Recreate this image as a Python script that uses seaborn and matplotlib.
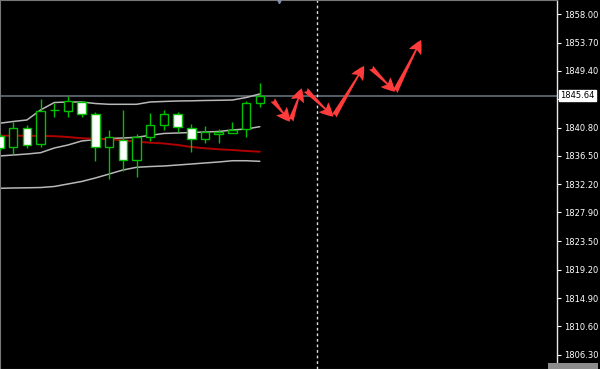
import numpy as np
import pandas as pd
import matplotlib
matplotlib.use("Agg")
import matplotlib.pyplot as plt
import matplotlib.transforms as mtransforms
from matplotlib.patches import Rectangle
import seaborn as sns

# ---- data ----
opens = [1839.52, 1837.89, 1840.69, 1838.26, 1843.39, 1843.31, 1844.68, 1842.81, 1837.80, 1838.91,
         1835.87, 1839.41, 1841.19, 1842.81, 1840.78, 1839.06, 1839.82, 1840.02, 1840.53, 1844.48]
highs = [1839.82, 1841.60, 1841.19, 1845.14, 1844.57, 1845.64, 1844.83, 1843.12, 1840.43, 1843.47,
         1839.82, 1842.96, 1843.47, 1843.16, 1841.34, 1841.08, 1840.58, 1841.69, 1844.88, 1847.52]
lows = [1837.39, 1836.78, 1837.65, 1837.89, 1842.45, 1842.36, 1842.36, 1835.76, 1832.94, 1834.25,
        1833.33, 1838.76, 1840.43, 1840.17, 1837.13, 1838.50, 1838.50, 1839.93, 1839.32, 1843.88]
closes = [1837.69, 1840.69, 1838.15, 1843.36, 1843.51, 1844.83, 1842.81, 1837.80, 1839.32, 1835.87,
          1839.36, 1841.19, 1842.81, 1840.84, 1839.06, 1840.08, 1840.12, 1840.38, 1844.48, 1845.64]
upper_band = [1841.45, 1841.72, 1841.95, 1843.47, 1844.60, 1844.68, 1844.68, 1844.45, 1844.33, 1844.33,
              1844.33, 1844.68, 1844.76, 1844.83, 1844.86, 1844.91, 1844.94, 1844.98, 1845.36, 1845.90]
middle_band = [1836.48, 1836.63, 1836.78, 1836.98, 1837.69, 1838.15, 1838.76, 1838.98, 1839.14, 1839.21,
               1839.32, 1839.62, 1839.90, 1839.97, 1840.05, 1840.12, 1840.20, 1840.43, 1840.58, 1840.93]
lower_band = [1831.57, 1831.62, 1831.65, 1831.69, 1831.85, 1832.23, 1832.61, 1833.14, 1833.74, 1834.35,
              1834.76, 1834.88, 1834.96, 1835.11, 1835.26, 1835.42, 1835.57, 1835.76, 1835.76, 1835.67]
ma_red = [1839.56, 1839.56, 1839.55, 1839.52, 1839.49, 1839.36, 1839.17, 1839.09, 1839.01, 1838.86,
          1838.65, 1838.50, 1838.38, 1838.15, 1837.85, 1837.65, 1837.50, 1837.39, 1837.24, 1837.13]
# the 1845.10 level is hidden behind the current-price box in the reference
y_ticks = [1858.00, 1853.70, 1849.40, 1845.10, 1840.80, 1836.50, 1832.20, 1827.90,
           1823.50, 1819.20, 1814.90, 1810.60, 1806.30]
y_tick_labels = ["1858.00", "1853.70", "1849.40", "", "1840.80", "1836.50", "1832.20",
                 "1827.90", "1823.50", "1819.20", "1814.90", "1810.60", "1806.30"]
current_price = 1845.64
current_label = "1845.64"
future_bar = 23.15
# forecast arrows: (start bar, start price) -> (end bar, end price)
arrow_starts_x = [19.94, 21.26, 22.35, 24.42, 27.12, 28.87]
arrow_starts_y = [1844.98, 1841.84, 1846.50, 1842.55, 1849.89, 1846.24]
arrow_ends_x = [21.20, 22.06, 24.36, 26.61, 28.87, 30.77]
arrow_ends_y = [1841.69, 1846.76, 1842.45, 1850.15, 1846.24, 1854.10]

# ---- style ----
sns.set_theme(style="dark")
plt.rcParams['font.family'] = ['DejaVu Sans']

fig = plt.figure(figsize=(6.0, 3.69), dpi=100)
fig.patch.set_facecolor("black")
ax = fig.add_axes([0, 0, 557 / 600, 1])
ax.set_facecolor("black")

bars = np.arange(len(opens))
df = pd.DataFrame({"bar": bars, "upper": upper_band, "middle": middle_band,
                   "lower": lower_band, "ma": ma_red})

band_col = "#b8b8b8"
for col in ["upper", "middle", "lower"]:
    sns.lineplot(data=df, x="bar", y=col, ax=ax, color=band_col, linewidth=1.1, zorder=2)
sns.lineplot(data=df, x="bar", y="ma", ax=ax, color="#b00000", linewidth=1.4, zorder=2)

green = "#00c000"
o = np.array(opens); c = np.array(closes)
ax.vlines(bars, lows, highs, color=green, linewidth=1.0, zorder=3)
bottoms = np.minimum(o, c)
heights = np.maximum(np.abs(c - o), 0.05)
faces = ["black" if cc >= oo else "white" for oo, cc in zip(o, c)]
ax.bar(bars, heights, bottom=bottoms, width=0.62, color=faces, edgecolor=green,
       linewidth=1.0, zorder=4)

# current price line
ax.axhline(current_price, color="#5c6670", linewidth=1.3, zorder=1)
# future vertical dotted line
ax.axvline(future_bar, color="#e0e0e0", linewidth=1.0, linestyle=(0, (2, 2)), zorder=1)

# forecast arrows
for sx, sy, ex, ey in zip(arrow_starts_x, arrow_starts_y, arrow_ends_x, arrow_ends_y):
    ax.annotate("", xy=(ex, ey), xytext=(sx, sy),
                arrowprops=dict(arrowstyle="fancy,head_length=0.85,head_width=0.85,tail_width=0.35",
                                color="#ff3b3b", mutation_scale=11.5, shrinkA=0, shrinkB=0, lw=0),
                zorder=6)

ax.set_xlim(0.036, 40.69)
ax.set_ylim(1804.13, 1860.17)
ax.set_xlabel("")
ax.set_ylabel("")
ax.set_xticks([])
ax.yaxis.tick_right()
ax.set_yticks(y_ticks)
ax.set_yticklabels(y_tick_labels)
ax.tick_params(axis="y", colors="white", labelcolor="white", labelsize=6, length=3,
               width=0.8, pad=2, direction="out", right=True, left=False)
ax.grid(False)
for side in ["left", "top", "bottom"]:
    ax.spines[side].set_color("#777777")
    ax.spines[side].set_linewidth(0.8)
ax.spines["right"].set_color("#e8e8e8")
ax.spines["right"].set_linewidth(1.0)

# shift marker at top
trans_top = mtransforms.blended_transform_factory(ax.transData, ax.transAxes)
ax.plot([20.4], [0.997], marker="v", markersize=3, color="#7f8fa6", transform=trans_top,
        clip_on=False, zorder=7)

# current price label box
trans_r = mtransforms.blended_transform_factory(ax.transAxes, ax.transData)
ax.text(1.006, current_price, current_label, transform=trans_r, fontsize=6, color="black",
        va="center", ha="left", zorder=8,
        bbox=dict(boxstyle="square,pad=0.15", facecolor="white", edgecolor="white"))

# partial time box bottom right
fig.patches.append(Rectangle((548 / 600, 0), 50 / 600, 6 / 369, transform=fig.transFigure,
                             facecolor="#8c8c8c", edgecolor="none"))

fig.savefig("out.png", dpi=100, facecolor="black")
